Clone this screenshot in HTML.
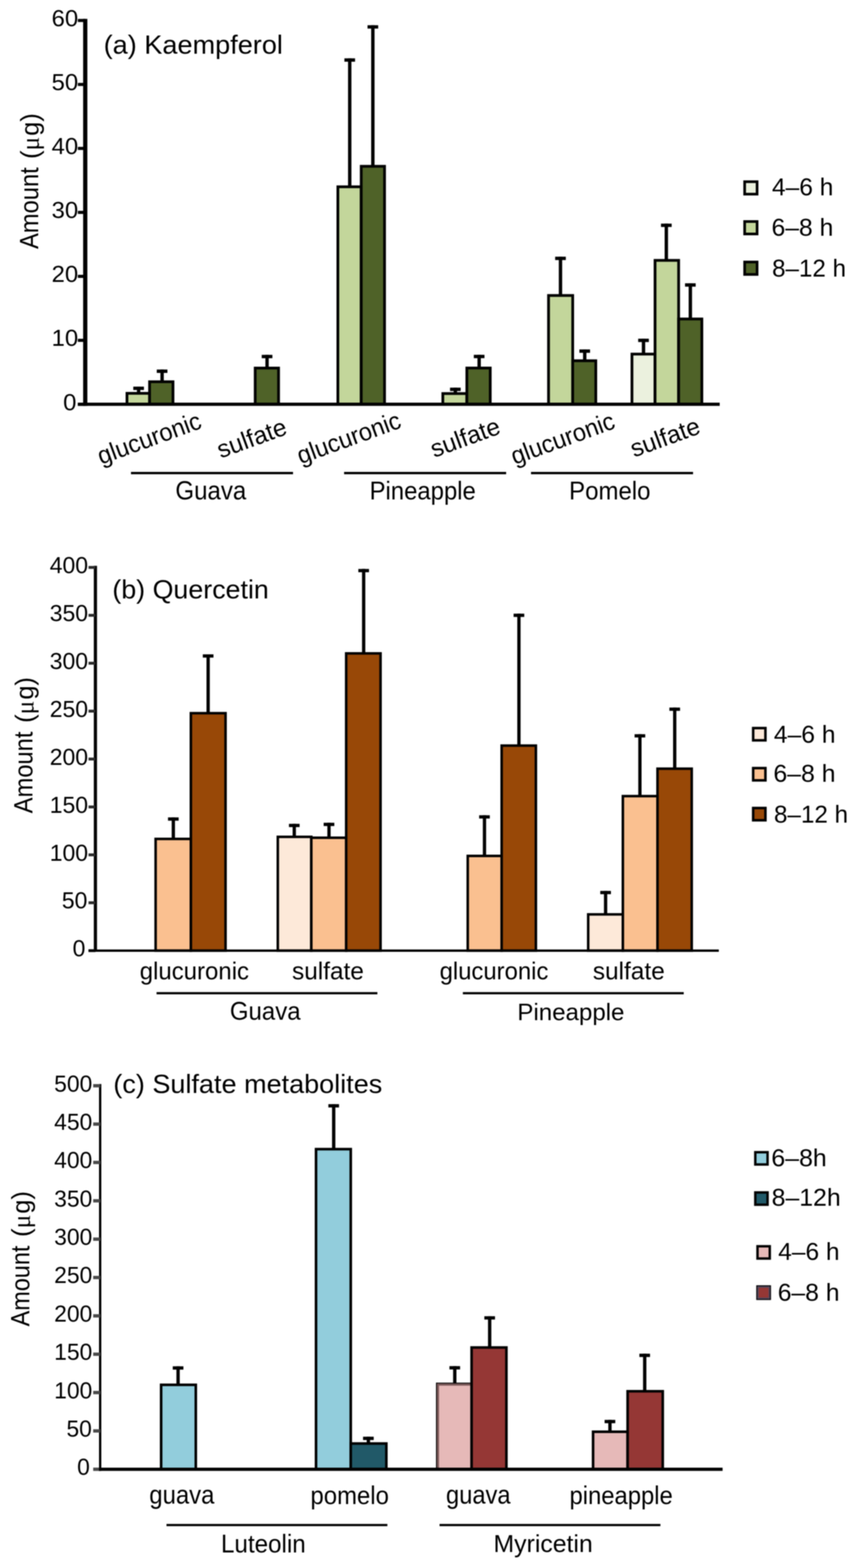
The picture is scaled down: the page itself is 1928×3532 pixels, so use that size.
<!DOCTYPE html>
<html><head><meta charset="utf-8"><title>Figure</title>
<style>
html,body{margin:0;padding:0;background:#fff;}
svg{display:block;}

text{font-family:"Liberation Sans",Arial,sans-serif;font-kerning:none;fill:#000;}
</style></head><body>
<svg width="1928" height="3532" viewBox="0 0 1928 3532">
<defs><filter id="b" x="0" y="0" width="1928" height="3532" filterUnits="userSpaceOnUse" color-interpolation-filters="sRGB"><feGaussianBlur stdDeviation="1.0"/></filter></defs>
<rect width="1928" height="3532" fill="#fff"/>
<g filter="url(#b)">
<rect width="1928" height="3532" fill="#fff"/>
<line x1="312.2" y1="886" x2="312.2" y2="870.9" stroke="#000" stroke-width="7.6"/>
<line x1="300.2" y1="874.7" x2="324.2" y2="874.7" stroke="#000" stroke-width="7.6"/>
<rect x="286" y="886" width="50.9" height="24.7" fill="#C3D69B" stroke="#000" stroke-width="6.2"/>
<line x1="365.1" y1="859.9" x2="365.1" y2="832.4" stroke="#000" stroke-width="7.6"/>
<line x1="353.1" y1="836.2" x2="377.1" y2="836.2" stroke="#000" stroke-width="7.6"/>
<rect x="336.9" y="859.9" width="52.7" height="50.8" fill="#4F6228" stroke="#000" stroke-width="6.2"/>
<line x1="601.5" y1="829.1" x2="601.5" y2="799.3" stroke="#000" stroke-width="7.6"/>
<line x1="589.5" y1="803.1" x2="613.5" y2="803.1" stroke="#000" stroke-width="7.6"/>
<rect x="574.8" y="829.1" width="52.6" height="81.6" fill="#4F6228" stroke="#000" stroke-width="6.2"/>
<line x1="787.7" y1="420.75" x2="787.7" y2="131.4" stroke="#000" stroke-width="7.6"/>
<line x1="775.7" y1="135.2" x2="799.7" y2="135.2" stroke="#000" stroke-width="7.6"/>
<rect x="761" y="420.75" width="52.6" height="489.95" fill="#C3D69B" stroke="#000" stroke-width="6.2"/>
<line x1="839.8" y1="374.6" x2="839.8" y2="56.8" stroke="#000" stroke-width="7.6"/>
<line x1="827.8" y1="60.6" x2="851.8" y2="60.6" stroke="#000" stroke-width="7.6"/>
<rect x="813.6" y="374.6" width="52.5" height="536.1" fill="#4F6228" stroke="#000" stroke-width="6.2"/>
<line x1="1025.6" y1="886.5" x2="1025.6" y2="873.2" stroke="#000" stroke-width="7.6"/>
<line x1="1013.6" y1="877" x2="1037.6" y2="877" stroke="#000" stroke-width="7.6"/>
<rect x="997.4" y="886.5" width="54.1" height="24.2" fill="#C3D69B" stroke="#000" stroke-width="6.2"/>
<line x1="1079.2" y1="829" x2="1079.2" y2="799.2" stroke="#000" stroke-width="7.6"/>
<line x1="1067.2" y1="803" x2="1091.2" y2="803" stroke="#000" stroke-width="7.6"/>
<rect x="1051.5" y="829" width="52.7" height="81.7" fill="#4F6228" stroke="#000" stroke-width="6.2"/>
<line x1="1262.4" y1="665.6" x2="1262.4" y2="578.2" stroke="#000" stroke-width="7.6"/>
<line x1="1250.4" y1="582" x2="1274.4" y2="582" stroke="#000" stroke-width="7.6"/>
<rect x="1235.5" y="665.6" width="54.4" height="245.1" fill="#C3D69B" stroke="#000" stroke-width="6.2"/>
<line x1="1317" y1="812.6" x2="1317" y2="787.1" stroke="#000" stroke-width="7.6"/>
<line x1="1305" y1="790.9" x2="1329" y2="790.9" stroke="#000" stroke-width="7.6"/>
<rect x="1289.9" y="812.6" width="52" height="98.1" fill="#4F6228" stroke="#000" stroke-width="6.2"/>
<line x1="1449.4" y1="797.6" x2="1449.4" y2="762.9" stroke="#000" stroke-width="7.6"/>
<line x1="1437.4" y1="766.7" x2="1461.4" y2="766.7" stroke="#000" stroke-width="7.6"/>
<rect x="1423.4" y="797.6" width="52" height="113.1" fill="#EBF1DE" stroke="#000" stroke-width="6.2"/>
<line x1="1500.8" y1="586.5" x2="1500.8" y2="503.7" stroke="#000" stroke-width="7.6"/>
<line x1="1488.8" y1="507.5" x2="1512.8" y2="507.5" stroke="#000" stroke-width="7.6"/>
<rect x="1475.4" y="586.5" width="53.1" height="324.2" fill="#C3D69B" stroke="#000" stroke-width="6.2"/>
<line x1="1554.9" y1="718.5" x2="1554.9" y2="638.1" stroke="#000" stroke-width="7.6"/>
<line x1="1542.9" y1="641.9" x2="1566.9" y2="641.9" stroke="#000" stroke-width="7.6"/>
<rect x="1528.5" y="718.5" width="52.3" height="192.2" fill="#4F6228" stroke="#000" stroke-width="6.2"/>
<line x1="192" y1="42.5" x2="192" y2="914.3" stroke="#000" stroke-width="9.5"/>
<line x1="175.4" y1="910.7" x2="192" y2="910.7" stroke="#000" stroke-width="7"/>
<line x1="175.4" y1="766.6" x2="192" y2="766.6" stroke="#000" stroke-width="7"/>
<line x1="175.4" y1="622.5" x2="192" y2="622.5" stroke="#000" stroke-width="7"/>
<line x1="175.4" y1="478.4" x2="192" y2="478.4" stroke="#000" stroke-width="7"/>
<line x1="175.4" y1="334.3" x2="192" y2="334.3" stroke="#000" stroke-width="7"/>
<line x1="175.4" y1="190.2" x2="192" y2="190.2" stroke="#000" stroke-width="7"/>
<line x1="175.4" y1="46.1" x2="192" y2="46.1" stroke="#000" stroke-width="7"/>
<line x1="175.4" y1="910.7" x2="1621" y2="910.7" stroke="#000" stroke-width="7.3"/>
<text transform="translate(142.18 923.5) scale(1.0450 1)" font-size="51.3">0</text>
<text transform="translate(116.37 779.4) scale(1.0450 1)" font-size="51.3">10</text>
<text transform="translate(116.37 635.3) scale(1.0450 1)" font-size="51.3">20</text>
<text transform="translate(116.37 491.2) scale(1.0450 1)" font-size="51.3">30</text>
<text transform="translate(116.37 347.1) scale(1.0450 1)" font-size="51.3">40</text>
<text transform="translate(116.37 203) scale(1.0450 1)" font-size="51.3">50</text>
<text transform="translate(116.37 58.9) scale(1.0450 1)" font-size="51.3">60</text>
<text transform="translate(233.52 120.76) scale(1.0177 1)" font-size="59.97">(a) Kaempferol</text>
<text transform="translate(85.62 560.8) rotate(-90) scale(0.9050 1)" font-size="59">Amount</text>
<text transform="translate(86.93 358.1) rotate(-90) scale(0.9900 1)" font-size="58">(<tspan font-family="Liberation Serif, serif">μ</tspan><tspan dx="2.32">g)</tspan></text>
<text transform="translate(227.81 1046.75) rotate(-20) scale(0.9600 1)" font-size="55.8">glucuronic</text>
<text transform="translate(496.88 1032.75) rotate(-20) scale(0.9900 1)" font-size="55.8">sulfate</text>
<text transform="translate(677.16 1045.8) rotate(-20) scale(0.9600 1)" font-size="55.8">glucuronic</text>
<text transform="translate(977.63 1031.25) rotate(-20) scale(0.9900 1)" font-size="55.8">sulfate</text>
<text transform="translate(1159.06 1047.1) rotate(-20) scale(0.9600 1)" font-size="55.8">glucuronic</text>
<text transform="translate(1427.88 1030.6) rotate(-20) scale(0.9900 1)" font-size="55.8">sulfate</text>
<line x1="295" y1="1065.6" x2="660" y2="1065.6" stroke="#000" stroke-width="5.3"/>
<line x1="775" y1="1065.6" x2="1140" y2="1065.6" stroke="#000" stroke-width="5.3"/>
<line x1="1196" y1="1065.6" x2="1561" y2="1065.6" stroke="#000" stroke-width="5.3"/>
<text transform="translate(395.08 1124.83) scale(0.9288 1)" font-size="58.33">Guava</text>
<text transform="translate(832.49 1125.45) scale(0.9493 1)" font-size="56.64">Pineapple</text>
<text transform="translate(1281.87 1125.49) scale(0.9386 1)" font-size="57.6">Pomelo</text>
<rect x="1677.2" y="409.3" width="28" height="28" fill="#EBF1DE" stroke="#000" stroke-width="6"/>
<text transform="translate(1738.73 440.35) scale(0.9872 1)" font-size="55.97">4–6 h</text>
<rect x="1677.2" y="499" width="28" height="28" fill="#C3D69B" stroke="#000" stroke-width="6"/>
<text transform="translate(1737.67 531.36) scale(1.0047 1)" font-size="55.42">6–8 h</text>
<rect x="1677.2" y="590.2" width="28" height="28" fill="#4F6228" stroke="#000" stroke-width="6"/>
<text transform="translate(1738.93 622.65) scale(0.9757 1)" font-size="55.83">8–12 h</text>
<line x1="390.4" y1="1889.7" x2="390.4" y2="1841.2" stroke="#000" stroke-width="7.4"/>
<line x1="378.4" y1="1844.9" x2="402.4" y2="1844.9" stroke="#000" stroke-width="7.4"/>
<rect x="350.5" y="1889.7" width="79.4" height="251.7" fill="#FAC090" stroke="#000" stroke-width="5.7"/>
<line x1="468.8" y1="1606.5" x2="468.8" y2="1473.9" stroke="#000" stroke-width="7.4"/>
<line x1="456.8" y1="1477.6" x2="480.8" y2="1477.6" stroke="#000" stroke-width="7.4"/>
<rect x="429.9" y="1606.5" width="78.1" height="534.9" fill="#984807" stroke="#000" stroke-width="5.7"/>
<line x1="662.8" y1="1885.05" x2="662.8" y2="1855.7" stroke="#000" stroke-width="7.4"/>
<line x1="650.8" y1="1859.4" x2="674.8" y2="1859.4" stroke="#000" stroke-width="7.4"/>
<rect x="625.7" y="1885.05" width="75.5" height="256.35" fill="#FDE9D9" stroke="#000" stroke-width="5.7"/>
<line x1="741" y1="1887.05" x2="741" y2="1853.3" stroke="#000" stroke-width="7.4"/>
<line x1="729" y1="1857" x2="753" y2="1857" stroke="#000" stroke-width="7.4"/>
<rect x="701.2" y="1887.05" width="78.5" height="254.35" fill="#FAC090" stroke="#000" stroke-width="5.7"/>
<line x1="819.1" y1="1471.8" x2="819.1" y2="1281.6" stroke="#000" stroke-width="7.4"/>
<line x1="807.1" y1="1285.3" x2="831.1" y2="1285.3" stroke="#000" stroke-width="7.4"/>
<rect x="779.7" y="1471.8" width="77.4" height="669.6" fill="#984807" stroke="#000" stroke-width="5.7"/>
<line x1="1091.2" y1="1928" x2="1091.2" y2="1836.4" stroke="#000" stroke-width="7.4"/>
<line x1="1079.2" y1="1840.1" x2="1103.2" y2="1840.1" stroke="#000" stroke-width="7.4"/>
<rect x="1053.5" y="1928" width="76.4" height="213.4" fill="#FAC090" stroke="#000" stroke-width="5.7"/>
<line x1="1168.8" y1="1679.5" x2="1168.8" y2="1382.3" stroke="#000" stroke-width="7.4"/>
<line x1="1156.8" y1="1386" x2="1180.8" y2="1386" stroke="#000" stroke-width="7.4"/>
<rect x="1129.9" y="1679.5" width="77.1" height="461.9" fill="#984807" stroke="#000" stroke-width="5.7"/>
<line x1="1364" y1="2059.7" x2="1364" y2="2006.8" stroke="#000" stroke-width="7.4"/>
<line x1="1352" y1="2010.5" x2="1376" y2="2010.5" stroke="#000" stroke-width="7.4"/>
<rect x="1324.8" y="2059.7" width="78.1" height="81.7" fill="#FDE9D9" stroke="#000" stroke-width="5.7"/>
<line x1="1441.3" y1="1793.3" x2="1441.3" y2="1653.8" stroke="#000" stroke-width="7.4"/>
<line x1="1429.3" y1="1657.5" x2="1453.3" y2="1657.5" stroke="#000" stroke-width="7.4"/>
<rect x="1402.9" y="1793.3" width="78" height="348.1" fill="#FAC090" stroke="#000" stroke-width="5.7"/>
<line x1="1519.7" y1="1731.5" x2="1519.7" y2="1593.8" stroke="#000" stroke-width="7.4"/>
<line x1="1507.7" y1="1597.5" x2="1531.7" y2="1597.5" stroke="#000" stroke-width="7.4"/>
<rect x="1480.9" y="1731.5" width="77.1" height="409.9" fill="#984807" stroke="#000" stroke-width="5.7"/>
<line x1="214.9" y1="1274.4" x2="214.9" y2="2144" stroke="#000" stroke-width="7.2"/>
<line x1="199.4" y1="2141.4" x2="214.9" y2="2141.4" stroke="#2a2a2a" stroke-width="6.5"/>
<line x1="199.4" y1="2033.49" x2="214.9" y2="2033.49" stroke="#2a2a2a" stroke-width="6.5"/>
<line x1="199.4" y1="1925.58" x2="214.9" y2="1925.58" stroke="#2a2a2a" stroke-width="6.5"/>
<line x1="199.4" y1="1817.67" x2="214.9" y2="1817.67" stroke="#2a2a2a" stroke-width="6.5"/>
<line x1="199.4" y1="1709.76" x2="214.9" y2="1709.76" stroke="#2a2a2a" stroke-width="6.5"/>
<line x1="199.4" y1="1601.85" x2="214.9" y2="1601.85" stroke="#2a2a2a" stroke-width="6.5"/>
<line x1="199.4" y1="1493.94" x2="214.9" y2="1493.94" stroke="#2a2a2a" stroke-width="6.5"/>
<line x1="199.4" y1="1386.03" x2="214.9" y2="1386.03" stroke="#2a2a2a" stroke-width="6.5"/>
<line x1="199.4" y1="1278.12" x2="214.9" y2="1278.12" stroke="#2a2a2a" stroke-width="6.5"/>
<line x1="199.4" y1="2141.4" x2="1619" y2="2141.4" stroke="#000" stroke-width="5.2"/>
<text transform="translate(163.41 2154.4) scale(1.0100 1)" font-size="51.3">0</text>
<text transform="translate(139.19 2046.49) scale(1.0100 1)" font-size="51.3">50</text>
<text transform="translate(111.88 1938.58) scale(1.0100 1)" font-size="51.3">100</text>
<text transform="translate(111.88 1830.67) scale(1.0100 1)" font-size="51.3">150</text>
<text transform="translate(111.88 1722.76) scale(1.0100 1)" font-size="51.3">200</text>
<text transform="translate(111.88 1614.85) scale(1.0100 1)" font-size="51.3">250</text>
<text transform="translate(111.88 1506.94) scale(1.0100 1)" font-size="51.3">300</text>
<text transform="translate(111.88 1399.03) scale(1.0100 1)" font-size="51.3">350</text>
<text transform="translate(111.88 1291.12) scale(1.0100 1)" font-size="51.3">400</text>
<text transform="translate(253.05 1348.38) scale(1.0067 1)" font-size="60">(b) Quercetin</text>
<text transform="translate(73.42 1831.9) rotate(-90) scale(0.9050 1)" font-size="59">Amount</text>
<text transform="translate(74.83 1628.3) rotate(-90) scale(0.9900 1)" font-size="58">(<tspan font-family="Liberation Serif, serif">μ</tspan><tspan dx="2.32">g)</tspan></text>
<text transform="translate(314.83 2206.1) scale(0.9659 1)" font-size="55.89">glucuronic</text>
<text transform="translate(657.67 2205.76) scale(0.9871 1)" font-size="55.69">sulfate</text>
<text transform="translate(990.14 2206.43) scale(0.9560 1)" font-size="56.22">glucuronic</text>
<text transform="translate(1335.27 2206.36)" font-size="55.01">sulfate</text>
<line x1="352.6" y1="2237.2" x2="850" y2="2237.2" stroke="#000" stroke-width="5"/>
<line x1="1042.5" y1="2237.2" x2="1540" y2="2237.2" stroke="#000" stroke-width="5"/>
<text transform="translate(517.78 2296.84) scale(0.9401 1)" font-size="57.49">Guava</text>
<text transform="translate(1165.35 2297.51) scale(0.9967 1)" font-size="54.39">Pineapple</text>
<rect x="1696.4" y="1640.05" width="27.6" height="27.6" fill="#FDE9D9" stroke="#000" stroke-width="5.7"/>
<text transform="translate(1743.03 1672.75) scale(0.9868 1)" font-size="56.24">4–6 h</text>
<rect x="1696.4" y="1730.2" width="27.6" height="27.6" fill="#FAC090" stroke="#000" stroke-width="5.7"/>
<text transform="translate(1741.96 1760.86) scale(1.0043 1)" font-size="55.69">6–8 h</text>
<rect x="1696.4" y="1820.1" width="27.6" height="27.6" fill="#984807" stroke="#000" stroke-width="5.7"/>
<text transform="translate(1743.13 1852.56) scale(0.9835 1)" font-size="55.56">8–12 h</text>
<line x1="401.1" y1="3119.4" x2="401.1" y2="3077.65" stroke="#000" stroke-width="7.5"/>
<line x1="389.1" y1="3081.4" x2="413.1" y2="3081.4" stroke="#000" stroke-width="7.5"/>
<rect x="362.9" y="3119.4" width="78.1" height="190.2" fill="#92CDDC" stroke="#000" stroke-width="5.85"/>
<line x1="751.6" y1="2588.5" x2="751.6" y2="2487.15" stroke="#000" stroke-width="7.5"/>
<line x1="739.6" y1="2490.9" x2="763.6" y2="2490.9" stroke="#000" stroke-width="7.5"/>
<rect x="711.8" y="2588.5" width="78.2" height="721.1" fill="#92CDDC" stroke="#000" stroke-width="5.85"/>
<line x1="829.7" y1="3251.6" x2="829.7" y2="3236.25" stroke="#000" stroke-width="7.5"/>
<line x1="817.7" y1="3240" x2="841.7" y2="3240" stroke="#000" stroke-width="7.5"/>
<rect x="790" y="3251.6" width="80.2" height="58" fill="#215968" stroke="#000" stroke-width="5.85"/>
<line x1="1024.3" y1="3118.3" x2="1024.3" y2="3077.25" stroke="#000" stroke-width="7.5"/>
<line x1="1012.3" y1="3081" x2="1036.3" y2="3081" stroke="#000" stroke-width="7.5"/>
<rect x="985.9" y="3118.3" width="76.3" height="191.3" fill="#E6B9B8" stroke="#7a5858" stroke-width="5.85"/>
<line x1="983" y1="3115.4" x2="1062.2" y2="3115.4" stroke="#000" stroke-width="2"/>
<line x1="983" y1="3114.4" x2="983" y2="3309.6" stroke="#000" stroke-width="2"/>
<line x1="1102.9" y1="3035.3" x2="1102.9" y2="2964.85" stroke="#000" stroke-width="7.5"/>
<line x1="1090.9" y1="2968.6" x2="1114.9" y2="2968.6" stroke="#000" stroke-width="7.5"/>
<rect x="1062.2" y="3035.3" width="78.4" height="274.3" fill="#953735" stroke="#000" stroke-width="5.85"/>
<line x1="1373.8" y1="3225.1" x2="1373.8" y2="3198.35" stroke="#000" stroke-width="7.5"/>
<line x1="1361.8" y1="3202.1" x2="1385.8" y2="3202.1" stroke="#000" stroke-width="7.5"/>
<rect x="1335.8" y="3225.1" width="77.8" height="84.5" fill="#E6B9B8" stroke="#000" stroke-width="5.85"/>
<line x1="1452.1" y1="3133.9" x2="1452.1" y2="3049.25" stroke="#000" stroke-width="7.5"/>
<line x1="1440.1" y1="3053" x2="1464.1" y2="3053" stroke="#000" stroke-width="7.5"/>
<rect x="1413.6" y="3133.9" width="79.1" height="175.7" fill="#953735" stroke="#000" stroke-width="5.85"/>
<line x1="225.6" y1="2441.8" x2="225.6" y2="3313.3" stroke="#000" stroke-width="5.2"/>
<line x1="209.9" y1="3309.6" x2="225.6" y2="3309.6" stroke="#4a4a4a" stroke-width="7.5"/>
<line x1="209.9" y1="3223.21" x2="225.6" y2="3223.21" stroke="#4a4a4a" stroke-width="7.5"/>
<line x1="209.9" y1="3136.82" x2="225.6" y2="3136.82" stroke="#4a4a4a" stroke-width="7.5"/>
<line x1="209.9" y1="3050.43" x2="225.6" y2="3050.43" stroke="#4a4a4a" stroke-width="7.5"/>
<line x1="209.9" y1="2964.04" x2="225.6" y2="2964.04" stroke="#4a4a4a" stroke-width="7.5"/>
<line x1="209.9" y1="2877.65" x2="225.6" y2="2877.65" stroke="#4a4a4a" stroke-width="7.5"/>
<line x1="209.9" y1="2791.26" x2="225.6" y2="2791.26" stroke="#4a4a4a" stroke-width="7.5"/>
<line x1="209.9" y1="2704.87" x2="225.6" y2="2704.87" stroke="#4a4a4a" stroke-width="7.5"/>
<line x1="209.9" y1="2618.48" x2="225.6" y2="2618.48" stroke="#4a4a4a" stroke-width="7.5"/>
<line x1="209.9" y1="2532.09" x2="225.6" y2="2532.09" stroke="#4a4a4a" stroke-width="7.5"/>
<line x1="209.9" y1="2445.7" x2="225.6" y2="2445.7" stroke="#4a4a4a" stroke-width="7.5"/>
<line x1="223" y1="3309.6" x2="1627.5" y2="3309.6" stroke="#000" stroke-width="7.4"/>
<text transform="translate(173.67 3322.4)" font-size="51.3">0</text>
<text transform="translate(149.74 3236.01)" font-size="51.3">50</text>
<text transform="translate(122.11 3149.62)" font-size="51.3">100</text>
<text transform="translate(122.11 3063.23)" font-size="51.3">150</text>
<text transform="translate(122.11 2976.84)" font-size="51.3">200</text>
<text transform="translate(122.11 2890.45)" font-size="51.3">250</text>
<text transform="translate(122.11 2804.06)" font-size="51.3">300</text>
<text transform="translate(122.11 2717.67)" font-size="51.3">350</text>
<text transform="translate(122.11 2631.28)" font-size="51.3">400</text>
<text transform="translate(122.11 2544.89)" font-size="51.3">450</text>
<text transform="translate(122.11 2458.5)" font-size="51.3">500</text>
<text transform="translate(255.32 2461.87) scale(1.0223 1)" font-size="59.57">(c) Sulfate metabolites</text>
<text transform="translate(65.82 2987.7) rotate(-90) scale(0.8950 1)" font-size="59">Amount</text>
<text transform="translate(67.43 2786.2) rotate(-90) scale(0.9900 1)" font-size="58">(<tspan font-family="Liberation Serif, serif">μ</tspan><tspan dx="2.32">g)</tspan></text>
<text transform="translate(336.34 3387.14) scale(0.9184 1)" font-size="58.61">guava</text>
<text transform="translate(699.33 3387.55) scale(0.9502 1)" font-size="56.64">pomelo</text>
<text transform="translate(1004.56 3387.14) scale(0.9108 1)" font-size="58.61">guava</text>
<text transform="translate(1282.64 3387.55) scale(0.9473 1)" font-size="56.64">pineapple</text>
<line x1="375" y1="3435.2" x2="872.5" y2="3435.2" stroke="#000" stroke-width="5"/>
<line x1="990" y1="3435.2" x2="1487.5" y2="3435.2" stroke="#000" stroke-width="5"/>
<text transform="translate(497.83 3496.53) scale(0.9412 1)" font-size="57.87">Luteolin</text>
<text transform="translate(1111.51 3495.91) scale(1.0098 1)" font-size="55.36">Myricetin</text>
<rect x="1701.2" y="2595.45" width="27.6" height="27.6" fill="#92CDDC" stroke="#000" stroke-width="5.5"/>
<text transform="translate(1737.15 2627.36) scale(1.0239 1)" font-size="54.88">6–8h</text>
<rect x="1701.2" y="2686.05" width="27.6" height="27.6" fill="#215968" stroke="#000" stroke-width="5.5"/>
<text transform="translate(1738.07 2716.45) scale(0.9965 1)" font-size="56.1">8–12h</text>
<rect x="1706.15" y="2807.3" width="27.6" height="27.6" fill="#E6B9B8" stroke="#000" stroke-width="5.5"/>
<text transform="translate(1752.73 2838.46) scale(0.9986 1)" font-size="55.29">4–6 h</text>
<rect x="1706.15" y="2897.95" width="27.6" height="27.6" fill="#953735" stroke="#50465a" stroke-width="5.3"/>
<rect x="1704.5" y="2896.3" width="30.9" height="30.9" fill="none" stroke="#000" stroke-width="2"/>
<text transform="translate(1751.67 2930.15) scale(0.9870 1)" font-size="56.37">6–8 h</text>
</g>
</svg>
</body></html>
